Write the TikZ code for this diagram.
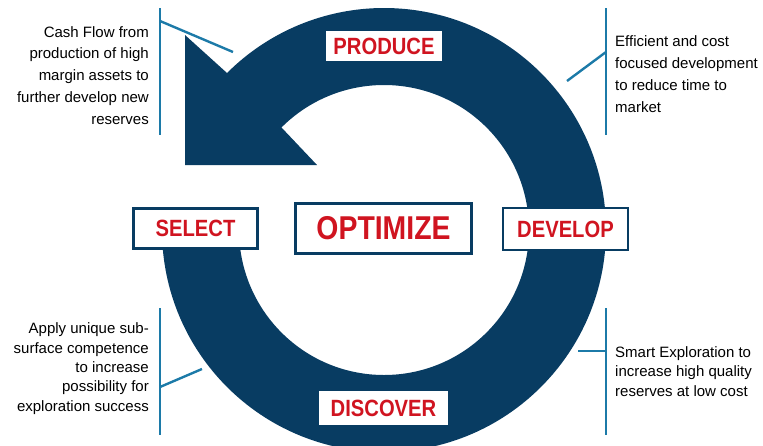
\documentclass[tikz,border=0pt]{standalone}
\usepackage{fontspec}
\setmainfont{Liberation Sans}
\usepackage{graphicx}
\usetikzlibrary{calc}
\definecolor{navy}{RGB}{8,60,98}
\definecolor{lblred}{RGB}{208,20,32}
\definecolor{leader}{RGB}{28,122,168}
\newcommand{\squeezetxt}[1]{\scalebox{0.86}[1]{#1}}
\begin{document}
\begin{tikzpicture}[x=1pt,y=1pt,yscale=-1,
  stagebox/.style={draw=navy, line width=2.8pt, fill=white, inner sep=0pt, text=lblred,
    font=\bfseries\fontsize{23.5}{24}\selectfont},
  desc/.style={inner sep=0pt, text=black},
  leaderline/.style={draw=leader, line width=2.4pt}]
\useasboundingbox (0,0) rectangle (763,445);
\coordinate (c) at (384,230);
% ring with arrow head
\fill[navy] ($(c)+(180:222)$) arc[start angle=180,end angle=-135,radius=222]
  -- (185,35) -- (185,165) -- (317,165) -- ($(c)+(-135:145)$)
  arc[start angle=-135,end angle=180,radius=145] -- cycle;
% stage boxes
\node[stagebox, minimum width=118pt, minimum height=33pt] (produce) at (384,46) {\squeezetxt{PRODUCE}};
\node[stagebox, minimum width=132pt, minimum height=37pt] (discover) at (383.5,408) {\squeezetxt{DISCOVER}};
\node[stagebox, minimum width=124pt, minimum height=40pt] (select) at (195.5,228.5) {\squeezetxt{SELECT}};
\node[stagebox, minimum width=176pt, minimum height=50pt, font=\bfseries\fontsize{33}{34}\selectfont] (optimize) at (383.5,228.5) {\squeezetxt{OPTIMIZE}};
\node[stagebox, minimum width=125pt, minimum height=42pt] (develop) at (565.5,229) {\squeezetxt{DEVELOP}};
% descriptions (base anchor = baseline of last line)
\node[desc, align=right, anchor=base east, font=\fontsize{15}{21.7}\selectfont] (tl) at (149,124)
  {Cash Flow from\\production of high\\margin assets to\\further develop new\\reserves};
\node[desc, align=left, anchor=base west, font=\fontsize{15}{21.7}\selectfont] (tr) at (615,112)
  {Efficient and cost\\focused development\\to reduce time to\\market};
\node[desc, align=right, anchor=base east, font=\fontsize{15}{19.3}\selectfont] (bl) at (149,411)
  {Apply unique sub-\\surface competence\\to increase\\possibility for\\exploration success};
\node[desc, align=left, anchor=base west, font=\fontsize{15}{19.5}\selectfont] (br) at (615,396)
  {Smart Exploration to\\increase high quality\\reserves at low cost};
% leader lines
\coordinate (tlTop) at (160,8);   \coordinate (tlBot) at (160,135);
\coordinate (tlJoin) at (160,21); \coordinate (tlEnd) at (233,52);
\coordinate (trTop) at (606,8);   \coordinate (trBot) at (606,135);
\coordinate (trJoin) at (606,52); \coordinate (trEnd) at (567,81);
\coordinate (blTop) at (160,308); \coordinate (blBot) at (160,435);
\coordinate (blJoin) at (160,387);\coordinate (blEnd) at (202,369);
\coordinate (brTop) at (606,308); \coordinate (brBot) at (606,435);
\coordinate (brJoin) at (606,351);\coordinate (brEnd) at (578,351);
\draw[leaderline] (tlTop) -- (tlBot);
\draw[leaderline] (tlJoin) -- (tlEnd);
\draw[leaderline] (trTop) -- (trBot);
\draw[leaderline] (trJoin) -- (trEnd);
\draw[leaderline] (blTop) -- (blBot);
\draw[leaderline] (blJoin) -- (blEnd);
\draw[leaderline] (brTop) -- (brBot);
\draw[leaderline] (brJoin) -- (brEnd);
\end{tikzpicture}
\end{document}
